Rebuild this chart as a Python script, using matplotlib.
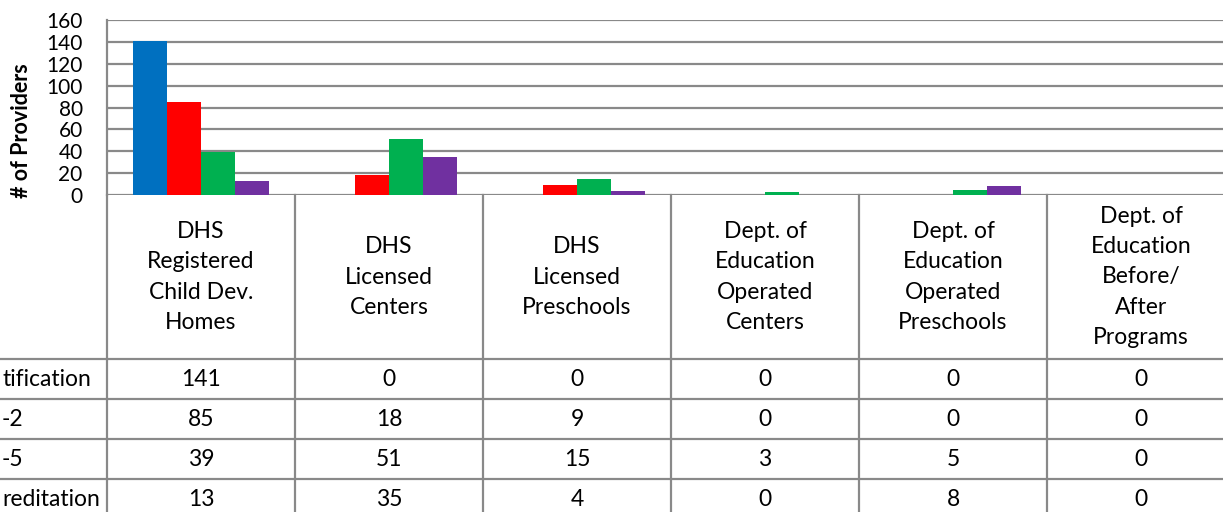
import numpy as np
import matplotlib
matplotlib.use("Agg")
import matplotlib.pyplot as plt

# Data
categories = ["DHS\nRegistered\nChild Dev.\nHomes", "DHS\nLicensed\nCenters", "DHS\nLicensed\nPreschools",
              "Dept. of\nEducation\nOperated\nCenters", "Dept. of\nEducation\nOperated\nPreschools",
              "Dept. of\nEducation\nBefore/\nAfter\nPrograms"]
# row labels as far as they are visible in the cropped original
row_labels = ["tification", "-2", "-5", "reditation"]
no_cert = [141, 0, 0, 0, 0, 0]
level_1_2 = [85, 18, 9, 0, 0, 0]
level_3_5 = [39, 51, 15, 3, 5, 0]
accredited = [13, 35, 4, 0, 8, 0]
yticks = [0, 20, 40, 60, 80, 100, 120, 140, 160]

series = [no_cert, level_1_2, level_3_5, accredited]
colors = ["#0070C0", "#FF0000", "#00B050", "#7030A0"]
GRID = "#898989"
FS = 16.5

W, H = 1223, 512
plt.rcParams['font.family'] = ['Lato', 'DejaVu Sans']

fig = plt.figure(figsize=(W / 100, H / 100), dpi=100)

# bar area
ax = fig.add_axes([107 / W, (H - 195) / H, 1128 / W, 175 / H])
n = len(categories)
x = np.arange(n) + 0.5
bw = 34 / 188
for k, (vals, col) in enumerate(zip(series, colors)):
    ax.bar(x + (k - 1.5) * bw, vals, width=bw, color=col, zorder=3)

ax.set_xlim(0, n)
ax.set_ylim(0, 160)
ax.set_yticks(yticks)
ax.set_xticks([])
ax.tick_params(axis='y', length=0, pad=17.5, labelsize=15)
ax.yaxis.grid(True, color=GRID, linewidth=1.6, zorder=0)
for s in ["top", "right", "bottom"]:
    ax.spines[s].set_visible(False)
ax.spines["left"].set_color(GRID)
ax.spines["left"].set_linewidth(1.6)
ax.set_ylabel("# of Providers", fontsize=15.5, fontweight="bold")
ax.yaxis.set_label_coords(-75 / 1128, 0.37)

# data table below
tb = fig.add_axes([107 / W, -7 / H, 1128 / W, 324 / H])
tb.set_xlim(0, n)
tb.set_ylim(519, 195)
tb.axis("off")
row_lines = [359, 399, 439, 479]
for y in row_lines:
    tb.plot([-1, n], [y, y], color=GRID, linewidth=1.6, clip_on=False)
for i in range(n + 1):
    tb.plot([i, i], [195, 519], color=GRID, linewidth=1.6, clip_on=False)

for i, cat in enumerate(categories):
    tb.text(i + 0.5, 277, cat, ha="center", va="center", fontsize=FS, linespacing=1.55)

row_centers = [379, 419, 459, 499]
for r, (name, vals) in enumerate(zip(row_labels, series)):
    tb.text(-105 / 188, row_centers[r], name, ha="left", va="center", fontsize=FS)
    for i, v in enumerate(vals):
        tb.text(i + 0.5, row_centers[r], str(v), ha="center", va="center", fontsize=FS)

fig.savefig("out.png", dpi=100)
